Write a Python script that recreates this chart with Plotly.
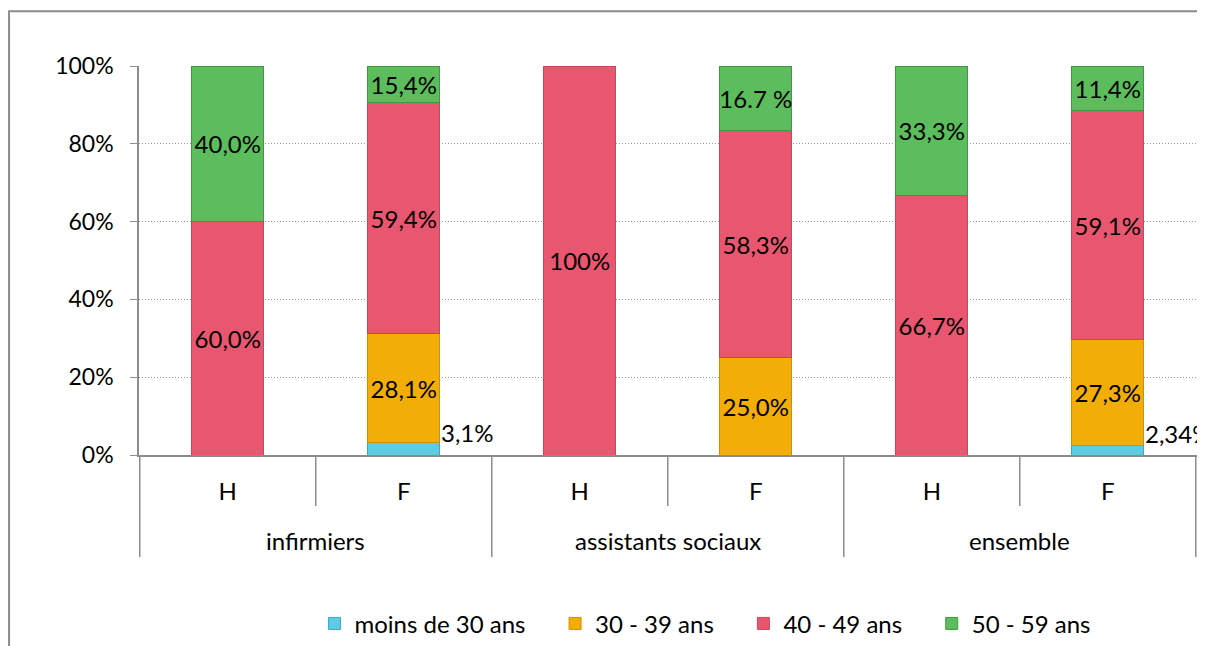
import plotly.graph_objects as go

groups = ["infirmiers", "infirmiers", "assistants sociaux", "assistants sociaux", "ensemble", "ensemble"]
sexes = ["H", "F", "H", "F", "H", "F"]

age_classes = ["moins de 30 ans", "30 - 39 ans", "40 - 49 ans", "50 - 59 ans"]
moins_30 = [0, 3.1, 0, 0, 0, 2.34]
age_30_39 = [0, 28.1, 0, 25.0, 0, 27.3]
age_40_49 = [60.0, 59.4, 100, 58.3, 66.7, 59.1]
age_50_59 = [40.0, 9.4, 0, 16.7, 33.3, 11.4]

# labels as printed on the original chart
labels_moins_30 = ["", "3,1%", "", "", "", "2,34%"]
labels_30_39 = ["", "28,1%", "", "25,0%", "", "27,3%"]
labels_40_49 = ["60,0%", "59,4%", "100%", "58,3%", "66,7%", "59,1%"]
labels_50_59 = ["40,0%", "15,4%", "", "16.7 %", "33,3%", "11,4%"]

y_ticks = [0, 20, 40, 60, 80, 100]
y_ticktext = ["0%", "20%", "40%", "60%", "80%", "100%"]

colors = ["#5ccbe3", "#f2ad06", "#e9566f", "#5cbd5c"]
edge_colors = ["#3aa9c2", "#d08f00", "#c8475d", "#3f9a3f"]

FONT = "Lato, Open Sans, sans-serif"
AXIS_GREY = "#8c8c8c"
PAD = "\u00a0" * 4  # extra room between legend entries

keys = [g + "|" + s for g, s in zip(groups, sexes)]

fig = go.Figure()
series = [moins_30, age_30_39, age_40_49, age_50_59]
texts = [["" for _ in labels_moins_30], labels_30_39, labels_40_49, labels_50_59]
for n, (name, vals, txt, col, edge) in enumerate(zip(age_classes, series, texts, colors, edge_colors)):
    fig.add_trace(go.Bar(
        x=keys, y=[v if v else None for v in vals],
        name=name + (PAD if n < len(age_classes) - 1 else ""),
        marker=dict(color=col, line=dict(color=edge, width=1)),
        text=txt, textposition="inside", insidetextanchor="middle",
        textangle=0, constraintext="none",
        textfont=dict(family=FONT, size=24, color="black"),
        hoverinfo="y+name",
    ))

# small segments are labelled beside the bar
for i, (v, lab) in enumerate(zip(moins_30, labels_moins_30)):
    if lab:
        fig.add_annotation(x=i + 0.2, y=v / 2, text=lab, showarrow=False,
                           xanchor="left", yanchor="bottom",
                           font=dict(family=FONT, size=24, color="black"))

# group separators and group labels under the axis
shapes = []
for i in range(len(keys) + 1):
    outer = i == 0 or i == len(keys) or groups[i] != groups[i - 1]
    shapes.append(dict(type="line", xref="x", yref="paper", x0=i - 0.5, x1=i - 0.5,
                       y0=0, y1=-0.262 if outer else -0.131,
                       line=dict(color=AXIS_GREY, width=1.5)))
seen = []
for g in groups:
    if g not in seen:
        seen.append(g)
for g in seen:
    idx = [i for i, gg in enumerate(groups) if gg == g]
    fig.add_annotation(x=sum(idx) / len(idx), y=-0.221, xref="x", yref="paper",
                       text=g, showarrow=False, yanchor="middle",
                       font=dict(family=FONT, size=24, color="black"))

# chart frame
shapes.append(dict(type="rect", xref="paper", yref="paper", x0=-0.121, x1=1.2, y0=-0.6, y1=1.141,
                   line=dict(color=AXIS_GREY, width=2), fillcolor="rgba(0,0,0,0)", layer="below"))

fig.update_layout(
    barmode="stack",
    barnorm="percent",
    bargap=0.59,
    width=1205, height=646,
    margin=dict(l=131, r=0, t=58, b=199, autoexpand=False),
    paper_bgcolor="white",
    plot_bgcolor="white",
    font=dict(family=FONT, size=24, color="black"),
    showlegend=True,
    legend=dict(orientation="h", x=0.527, xanchor="center", y=-0.434, yanchor="middle",
                traceorder="normal", font=dict(size=24), itemwidth=30),
    shapes=shapes,
)

fig.update_yaxes(range=[0, 100], tickvals=y_ticks, ticktext=y_ticktext,
                 showgrid=True, gridcolor="#9a9a9a", griddash="1px,2px", gridwidth=1,
                 showline=True, linecolor=AXIS_GREY, linewidth=1.5,
                 ticks="outside", ticklen=7, tickcolor=AXIS_GREY, automargin=False,
                 tickfont=dict(size=23), zeroline=False, ticklabelstandoff=12)
fig.update_xaxes(type="category", tickvals=keys, ticktext=sexes, automargin=False,
                 showline=True, linecolor=AXIS_GREY, linewidth=1.5,
                 ticks="", tickfont=dict(size=24), showgrid=False, ticklabelstandoff=14)

fig.write_html("out.html")
